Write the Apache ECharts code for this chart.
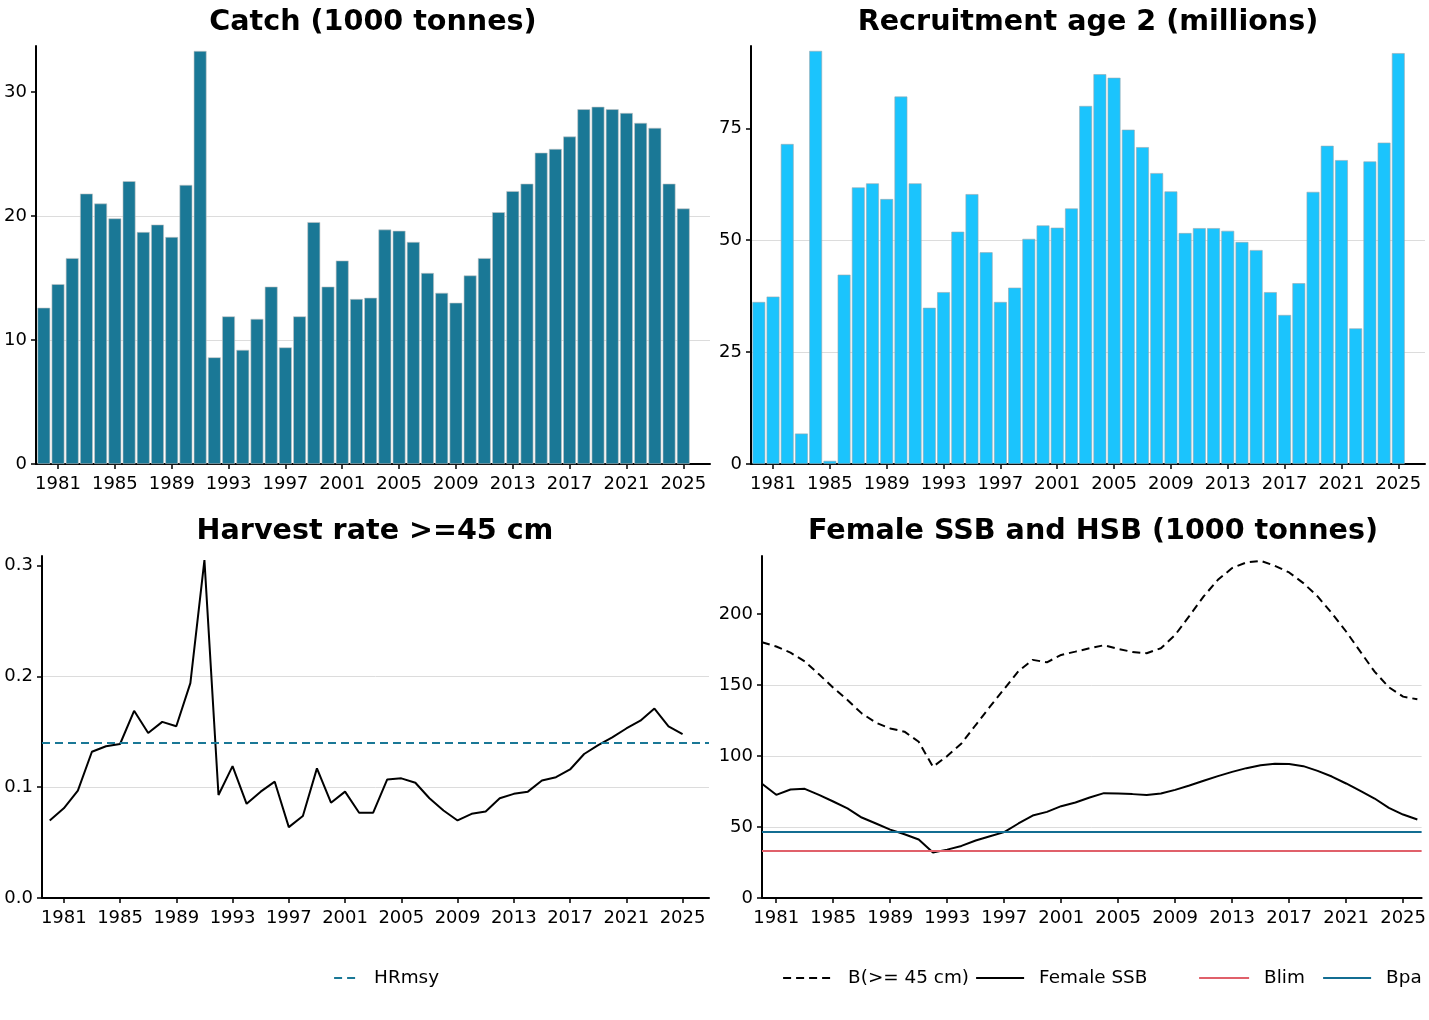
<!DOCTYPE html>
<html>
<head>
<meta charset="utf-8">
<script src="https://cdn.jsdelivr.net/npm/echarts@6/dist/echarts.min.js"></script>
<style>
  html, body { margin: 0; padding: 0; background: #fff; }
  #chart { width: 1429px; height: 1020px; }
</style>
</head>
<body>
<div id="chart"></div>
<script>
// assessment summary: catch, recruitment, harvest rate, biomass
const years = [1980, 1981, 1982, 1983, 1984, 1985, 1986, 1987, 1988, 1989,
  1990, 1991, 1992, 1993, 1994, 1995, 1996, 1997, 1998, 1999,
  2000, 2001, 2002, 2003, 2004, 2005, 2006, 2007, 2008, 2009,
  2010, 2011, 2012, 2013, 2014, 2015, 2016, 2017, 2018, 2019,
  2020, 2021, 2022, 2023, 2024, 2025];
const ssbYears = [1980, 1981, 1982, 1983, 1984, 1985, 1986, 1987, 1988, 1989,
  1990, 1991, 1992, 1993, 1994, 1995, 1996, 1997, 1998, 1999,
  2000, 2001, 2002, 2003, 2004, 2005, 2006, 2007, 2008, 2009,
  2010, 2011, 2012, 2013, 2014, 2015, 2016, 2017, 2018, 2019,
  2020, 2021, 2022, 2023, 2024, 2025, 2026];
const tickYears = [1981, 1985, 1989, 1993, 1997, 2001, 2005, 2009, 2013, 2017, 2021, 2025];

const catchVals = [12.6, 14.5, 16.6, 21.8, 21.0, 19.8, 22.8, 18.7, 19.3, 18.3,
  22.5, 33.3, 8.6, 11.9, 9.2, 11.7, 14.3, 9.4, 11.9, 19.5,
  14.3, 16.4, 13.3, 13.4, 18.9, 18.8, 17.9, 15.4, 13.8, 13.0,
  15.2, 16.6, 20.3, 22.0, 22.6, 25.1, 25.4, 26.4, 28.6, 28.8,
  28.6, 28.3, 27.5, 27.1, 22.6, 20.6];
const recruitVals = [36.2, 37.4, 71.5, 6.8, 92.3, 0.7, 42.3, 61.8, 62.7, 59.2,
  82.1, 62.7, 34.9, 38.4, 51.9, 60.3, 47.3, 36.2, 39.4, 50.3,
  53.3, 52.8, 57.1, 80.0, 87.1, 86.3, 74.7, 70.8, 65.0, 60.9,
  51.6, 52.7, 52.7, 52.1, 49.6, 47.8, 38.4, 33.3, 40.4, 60.8,
  71.1, 67.9, 30.3, 67.6, 71.8, 91.8];
const harvestVals = [0.070, 0.081, 0.097, 0.132, 0.137, 0.139, 0.169, 0.149, 0.159, 0.155,
  0.194, 0.305, 0.093, 0.119, 0.085, 0.096, 0.105, 0.064, 0.074, 0.117,
  0.086, 0.096, 0.077, 0.077, 0.107, 0.108, 0.104, 0.090, 0.079, 0.070,
  0.076, 0.078, 0.090, 0.094, 0.096, 0.106, 0.109, 0.116, 0.130, 0.138,
  0.145, 0.153, 0.160, 0.171, 0.155, 0.148];
const ssbVals = [80.5, 72.7, 76.5, 76.9, 72.7, 68.0, 63.1, 56.7, 52.5, 48.2,
  44.9, 41.2, 32.0, 34.1, 36.7, 40.5, 43.5, 46.4, 52.5, 58.1,
  60.7, 64.7, 67.3, 70.8, 73.9, 73.6, 73.2, 72.5, 73.6, 76.2,
  79.3, 82.6, 85.9, 88.9, 91.5, 93.6, 94.6, 94.4, 92.9, 89.6,
  85.6, 80.7, 75.5, 70.1, 63.5, 58.8, 55.3];
const hsbVals = [180.2, 177.2, 172.9, 166.8, 157.6, 148.2, 139.5, 130.1, 123.5, 119.5,
  117.2, 110.1, 92.5, 100.0, 108.9, 121.9, 134.8, 147.3, 159.8, 167.8,
  166.1, 171.3, 173.6, 176.0, 178.1, 175.5, 173.4, 172.5, 176.0, 185.4,
  198.8, 212.5, 224.2, 232.5, 236.5, 237.6, 234.1, 229.4, 221.9, 212.5,
  200.7, 187.8, 173.6, 159.5, 148.5, 141.9, 140.0];

const hrMsy = 0.139;
const bLim = 33.2;
const bPa = 46.6;

const FONT = 'DejaVu Sans';
const TEAL = '#1a7896';
const SKY = '#1bc4fd';
const RED = '#e0606a';
const BPA = '#136d92';

const pairs = (xs, ys) => xs.map((x, i) => [x, ys[i]]);

function xAxis(gridIndex, min, max) {
  return {
    type: 'value', gridIndex, min, max,
    axisLine: { lineStyle: { color: '#000', width: 2 } },
    axisTick: { length: 5, lineStyle: { color: '#000', width: 1.5 }, customValues: tickYears },
    axisLabel: { customValues: tickYears, color: '#000', fontSize: 18, fontFamily: FONT, margin: 11,
      formatter: v => String(v) },
    splitLine: { show: false }
  };
}

function yAxis(gridIndex, max, interval, ticks, fmt) {
  return {
    type: 'value', gridIndex, min: 0, max, interval,
    axisLine: { show: true, lineStyle: { color: '#000', width: 2 } },
    axisTick: { show: true, length: 5, lineStyle: { color: '#000', width: 1.5 }, customValues: ticks },
    axisLabel: { customValues: ticks, color: '#000', fontSize: 18, fontFamily: FONT, margin: 9,
      formatter: fmt || (v => String(v)) },
    splitLine: { show: true, showMinLine: false, showMaxLine: false, lineStyle: { color: '#dcdcdc', width: 1 } }
  };
}

const titleStyle = { fontFamily: FONT, fontWeight: 'bold', fontSize: 28.6, color: '#000' };
const legendText = { fontFamily: FONT, fontSize: 18.4, color: '#000', padding: [0, 0, 0, 10] };

function legendAt(name, left, width) {
  return {
    data: [name], left, top: 969, padding: 0, itemWidth: width, itemHeight: 14,
    itemStyle: { opacity: 0 }, lineStyle: { width: 2.2 },
    textStyle: legendText, selectedMode: false
  };
}

const chart = echarts.init(document.getElementById('chart'));

chart.setOption({
  animation: false,
  backgroundColor: '#fff',
  title: [
    { text: 'Catch (1000 tonnes)', left: 373, top: 8, textAlign: 'center', padding: 0, textStyle: titleStyle },
    { text: 'Recruitment age 2 (millions)', left: 1088, top: 8, textAlign: 'center', padding: 0, textStyle: titleStyle },
    { text: 'Harvest rate >=45 cm', left: 375, top: 517, textAlign: 'center', padding: 0, textStyle: titleStyle },
    { text: 'Female SSB and HSB (1000 tonnes)', left: 1093, top: 517, textAlign: 'center', padding: 0, textStyle: titleStyle }
  ],
  legend: [
    legendAt('HRmsy', 333, 25),
    legendAt('B(>= 45 cm)', 782, 50),
    legendAt('Female SSB', 975, 48),
    legendAt('Blim', 1198, 50),
    legendAt('Bpa', 1322, 48)
  ],
  grid: [
    { left: 36, top: 46, width: 674, height: 418 },
    { left: 751, top: 46, width: 674, height: 418 },
    { left: 42, top: 556, width: 667, height: 342 },
    { left: 762, top: 556, width: 662, height: 342 }
  ],
  xAxis: [
    xAxis(0, 1979.45, 2026.88),
    xAxis(1, 1979.45, 2026.88),
    xAxis(2, 1979.45, 2026.88),
    xAxis(3, 1980, 2026.3)
  ],
  yAxis: [
    yAxis(0, 33.7, 10, [0, 10, 20, 30]),
    yAxis(1, 93.4, 25, [0, 25, 50, 75]),
    yAxis(2, 0.3087, 0.1, [0, 0.1, 0.2, 0.3], v => v.toFixed(1)),
    yAxis(3, 241, 50, [0, 50, 100, 150, 200])
  ],
  series: [
    {
      name: 'Catch', type: 'bar', xAxisIndex: 0, yAxisIndex: 0,
      data: pairs(years, catchVals), barWidth: 12.8,
      itemStyle: { color: TEAL, borderColor: '#c4c4c4', borderWidth: 0.6 }
    },
    {
      name: 'Recruitment', type: 'bar', xAxisIndex: 1, yAxisIndex: 1,
      data: pairs(years, recruitVals), barWidth: 12.8,
      itemStyle: { color: SKY, borderColor: '#9aa8ae', borderWidth: 0.6 }
    },
    {
      name: 'Harvest rate', type: 'line', xAxisIndex: 2, yAxisIndex: 2,
      data: pairs(years, harvestVals), symbol: 'none', z: 3,
      lineStyle: { color: '#000', width: 2 }
    },
    {
      name: 'HRmsy', type: 'line', xAxisIndex: 2, yAxisIndex: 2, data: [], symbol: 'none',
      color: TEAL, lineStyle: { color: TEAL, width: 2, type: [8, 5] },
      markLine: {
        silent: true, symbol: 'none', label: { show: false },
        lineStyle: { color: TEAL, width: 2, type: [8, 5] },
        data: [{ yAxis: hrMsy }]
      }
    },
    {
      name: 'B(>= 45 cm)', type: 'line', xAxisIndex: 3, yAxisIndex: 3,
      data: pairs(ssbYears, hsbVals), symbol: 'none', color: '#000', z: 3,
      lineStyle: { color: '#000', width: 2, type: [8, 5] }
    },
    {
      name: 'Female SSB', type: 'line', xAxisIndex: 3, yAxisIndex: 3,
      data: pairs(ssbYears, ssbVals), symbol: 'none', color: '#000', z: 3,
      lineStyle: { color: '#000', width: 2 }
    },
    {
      name: 'Blim', type: 'line', xAxisIndex: 3, yAxisIndex: 3, data: [], symbol: 'none',
      color: RED, lineStyle: { color: RED, width: 2 },
      markLine: {
        silent: true, symbol: 'none', label: { show: false },
        lineStyle: { color: RED, width: 2, type: 'solid' },
        data: [{ yAxis: bLim }]
      }
    },
    {
      name: 'Bpa', type: 'line', xAxisIndex: 3, yAxisIndex: 3, data: [], symbol: 'none',
      color: BPA, lineStyle: { color: BPA, width: 2 },
      markLine: {
        silent: true, symbol: 'none', label: { show: false },
        lineStyle: { color: BPA, width: 2, type: 'solid' },
        data: [{ yAxis: bPa }]
      }
    }
  ]
});
</script>
</body>
</html>
